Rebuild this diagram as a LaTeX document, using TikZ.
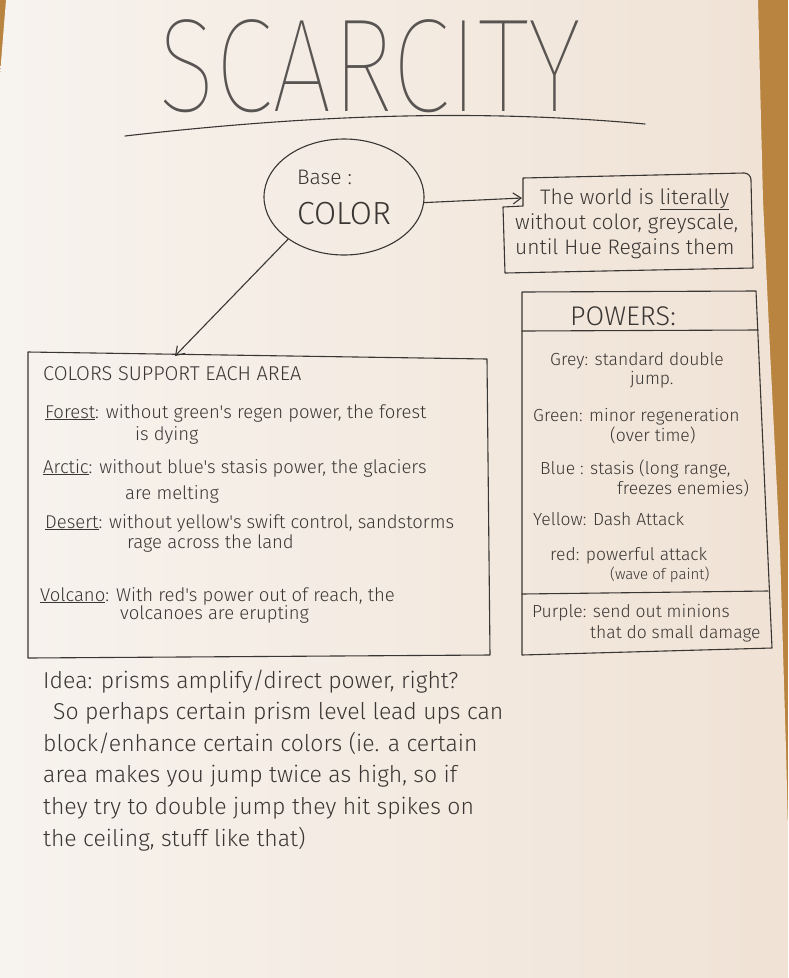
\documentclass[tikz,border=0pt]{standalone}
\usepackage{fontspec}
\usetikzlibrary{shapes.geometric,arrows.meta}
\newfontfamily\handfont{Fira Sans Light}
\newfontfamily\titlefont{Fira Sans Thin}
\newcommand\handsize[2]{\fontsize{#1}{#2}\selectfont}
\definecolor{pencil}{HTML}{3A3633}
\definecolor{paper}{HTML}{F7F3EE}
\definecolor{paperwarm}{HTML}{F0E2D5}
\definecolor{desk}{HTML}{B8843F}
\tikzstyle{scribble} = [draw=pencil, line width=1.1pt, line join=round, line cap=round]
\tikzstyle{hand} = [font=\handfont\handsize{18.5}{22}, text=pencil, inner sep=0pt, anchor=base west, align=left]
\tikzstyle{arr} = [scribble, -{Straight Barb[length=8pt,width=11pt]}]

\begin{document}
\begin{tikzpicture}[x=1pt,y=-1pt]
	\useasboundingbox (0,0) rectangle (788,978);
	% desk and sheet
	\fill[desk] (0,0) rectangle (788,978);
	\shade[left color=paper, right color=paperwarm] (6,0) -- (758,0) -- (763,200) -- (770,350) -- (780,550) -- (786,750) -- (788,830) -- (788,978) -- (0,978) -- (0,75) -- cycle;

	% title
	\node[hand, anchor=base, font=\titlefont\handsize{133}{133}, xscale=0.8, text=pencil!85] (title) at (370,111) {SCARCITY};
	\draw[scribble] (125,136) .. controls (300,116) and (470,108) .. (645,124);

	% base circle
	\node[scribble, ellipse, minimum width=160pt, minimum height=116pt, inner sep=0pt,
		font=\handfont\handsize{32}{40}, text=pencil, align=left] (base) at (344,197)
		{{\handsize{21}{40}Base :}\\COLOR};

	% world box (base anchors sit on the last line)
	\coordinate (worldin) at (522,198);
	\draw[scribble] (523,178) -- (744,173) to[out=0,in=90] (751,180) -- (753,268) -- (505,273) -- (503,207) -- (523,206) -- cycle;
	\node[hand, font=\handfont\handsize{21}{25}] (world) at (515,254)
		{\hspace*{25pt}The world is \underline{literally}\\without color, greyscale,\\until Hue Regains them};

	% powers box
	\draw[scribble] (522,292) -- (756,291) -- (772,648) -- (522,655) -- cycle;
	\draw[scribble] (522,331) -- (758,330);
	\draw[scribble] (522,594) -- (768,591);
	\node[hand, font=\handfont\handsize{27}{28}] (powers) at (570,325) {POWERS:};
	\node[hand, font=\handfont\handsize{17.5}{19}] (grey) at (550,384) {Grey: standard double\\\hspace*{80pt}jump.};
	\node[hand, font=\handfont\handsize{17.5}{20}] (green) at (533,441) {Green: minor regeneration\\\hspace*{77pt}(over time)};
	\node[hand, font=\handfont\handsize{17.5}{18}] (blue) at (540,494) {Blue : stasis (long range,\\\hspace*{77pt}freezes enemies)};
	\node[hand, font=\handfont\handsize{17.5}{20}] (yellow) at (533,525) {Yellow: Dash Attack};
	\node[hand, font=\handfont\handsize{17.5}{19}] (red) at (550,579) {red: powerful attack\\\hspace*{60pt}{\handsize{15}{19}(wave of paint)}};
	\node[hand, font=\handfont\handsize{17.5}{21}] (purple) at (532,638) {Purple: send out minions\\\hspace*{58pt}that do small damage};

	% areas box
	\coordinate (areain) at (175,356);
	\draw[scribble] (28,352) -- (487,359) -- (490,655) -- (28,658) -- cycle;
	\node[hand, font=\handfont\handsize{20}{22}] (areas) at (43,380) {COLORS SUPPORT EACH AREA};
	\node[hand] (forest) at (45,440) {\underline{Forest}: without green's regen power, the forest\\\hspace*{90pt}is dying};
	\node[hand, font=\handfont\handsize{18.5}{26}] (arctic) at (43,499) {\underline{Arctic}: without blue's stasis power, the glaciers\\\hspace*{82pt}are melting};
	\node[hand, font=\handfont\handsize{18.5}{20}] (desert) at (45,548) {\underline{Desert}: without yellow's swift control, sandstorms\\\hspace*{82pt}rage across the land};
	\node[hand, font=\handfont\handsize{18.5}{18}] (volcano) at (40,619) {\underline{Volcano}: With red's power out of reach, the\\\hspace*{80pt}volcanoes are erupting};

	% connectors
	\draw[arr] (base.-4) -- (worldin);
	\draw[arr] (base.217) -- (areain);

	% idea note
	\node[hand, font=\handfont\handsize{23}{31.6}] (idea) at (43,846)
		{Idea: prisms amplify/direct power, right?\\
		\hspace*{10pt}So perhaps certain prism level lead ups can\\
		block/enhance certain colors (ie. a certain\\
		area makes you jump twice as high, so if\\
		they try to double jump they hit spikes on\\
		the ceiling, stuff like that)};
\end{tikzpicture}
\end{document}
